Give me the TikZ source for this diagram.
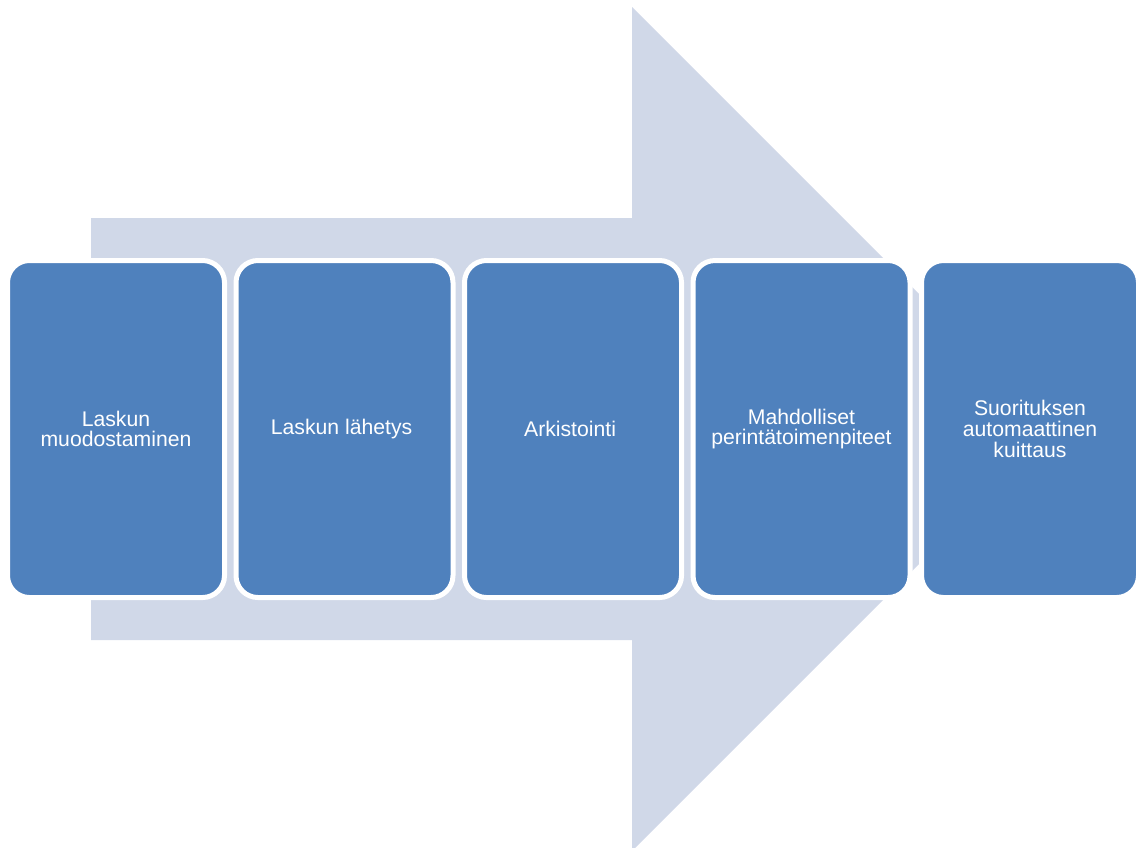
\documentclass[tikz,border=0pt]{standalone}
\usepackage{fontspec}
\setmainfont{Liberation Sans}
\usetikzlibrary{positioning}

\definecolor{arrowbg}{HTML}{D0D8E8}
\definecolor{phaseblue}{HTML}{4F81BD}

\begin{document}
\begin{tikzpicture}[x=0.5pt, y=-0.5pt, node distance=5.75pt,
	phase/.style={draw=white, fill=phaseblue, line width=2.5pt, rounded corners=11pt,
		outer sep=0pt, inner sep=0pt, minimum width=108.5pt, minimum height=168.5pt,
		align=center, text=white, font=\fontsize{10.6}{10.3}\selectfont}]

\useasboundingbox (0,0) rectangle (1138,847);

% big arrow behind the steps
\begin{scope}
\clip (0,0) rectangle (1138,847);
\fill [arrowbg] (91,218) -- (632,218) -- (632,7) -- (1054,429) -- (632,851) -- (632,640) -- (91,640) -- cycle;
\end{scope}

\node [phase] (1) at (116,429) {
	Laskun \\
	muodostaminen
};

\node [phase, right=of 1] (2) {
	Laskun lähetys
};

\node [phase, right=of 2] (3) {
	Arkistointi
};

\node [phase, right=of 3] (4) {
	Mahdolliset \\
	perintätoimenpiteet
};

\node [phase, right=of 4] (5) {
	Suorituksen \\
	automaattinen \\
	kuittaus
};

\end{tikzpicture}
\end{document}
